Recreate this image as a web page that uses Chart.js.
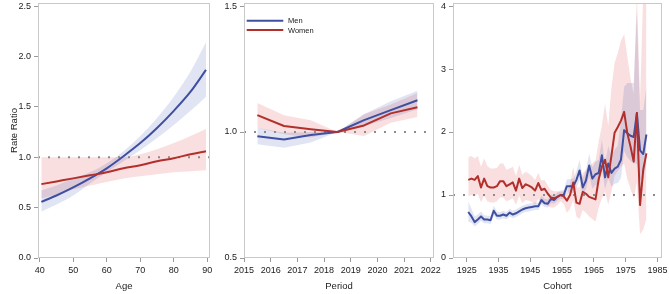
<!DOCTYPE html>
<html><head><meta charset="utf-8">
<script src="https://cdn.jsdelivr.net/npm/chart.js@4.4.1/dist/chart.umd.min.js"></script>
<style>
html,body{margin:0;padding:0;background:#fff;width:669px;height:294px;overflow:hidden;position:relative}
canvas{position:absolute;top:0}
</style></head><body>
<canvas id="c1" width="222" height="294" style="left:0px"></canvas>
<canvas id="c2" width="232" height="294" style="left:218px"></canvas>
<canvas id="c3" width="229" height="294" style="left:440px"></canvas>
<script>
// ---------- Age panel ----------
const ageValues      = [40.5, 45, 50, 55, 60, 65, 70, 75, 80, 85, 89.6];
const ageMen         = [0.557, 0.62, 0.70, 0.79, 0.89, 1.01, 1.14, 1.29, 1.46, 1.65, 1.866];
const ageMenLower    = [0.46, 0.53, 0.62, 0.74, 0.85, 0.96, 1.07, 1.19, 1.32, 1.46, 1.60];
const ageMenUpper    = [0.67, 0.72, 0.79, 0.85, 0.94, 1.06, 1.21, 1.39, 1.60, 1.85, 2.14];
const ageWomen       = [0.733, 0.76, 0.79, 0.82, 0.85, 0.89, 0.92, 0.96, 0.99, 1.03, 1.06];
const ageWomenLower  = [0.59, 0.63, 0.68, 0.72, 0.755, 0.79, 0.81, 0.83, 0.85, 0.86, 0.87];
const ageWomenUpper  = [1.0, 1.0, 1.0, 1.0, 1.0, 1.0, 1.03, 1.08, 1.14, 1.21, 1.28];
const ageXTicks      = [40, 50, 60, 70, 80, 90];
const ageYTicks      = [0, 0.5, 1.0, 1.5, 2.0, 2.5];

// ---------- Period panel ----------
const periodValues      = [2015.5, 2016.5, 2017.5, 2018.5, 2019.5, 2020.5, 2021.5];
const periodMen         = [0.983, 0.970, 0.988, 1.0, 1.047, 1.087, 1.126];
const periodMenLower    = [0.951, 0.938, 0.958, 1.0, 1.024, 1.056, 1.090];
const periodMenUpper    = [1.017, 0.997, 1.0, 1.0, 1.070, 1.122, 1.164];
const periodWomen       = [1.067, 1.024, 1.011, 1.0, 1.026, 1.074, 1.098];
const periodWomenLower  = [1.017, 0.991, 0.978, 1.0, 0.984, 1.037, 1.060];
const periodWomenUpper  = [1.115, 1.067, 1.047, 1.0, 1.070, 1.109, 1.155];
const periodXTicks      = [2015, 2016, 2017, 2018, 2019, 2020, 2021, 2022];
const periodYTicks      = [0.5, 1.0, 1.5];

// ---------- Cohort panel ----------
const cohortValues = [1925.5,1926.5,1927.5,1928.5,1929.5,1930.5,1931.5,1932.5,1933.5,1934.5,
  1935.5,1936.5,1937.5,1938.5,1939.5,1940.5,1941.5,1942.5,1943.5,1944.5,
  1945.5,1946.5,1947.5,1948.5,1949.5,1950.5,1951.5,1952.5,1953.5,1954.5,
  1955.5,1956.5,1957.5,1958.5,1959.5,1960.5,1961.5,1962.5,1963.5,1964.5,
  1965.5,1966.5,1967.5,1968.5,1969.5,1970.5,1971.5,1972.5,1973.5,1974.5,
  1975.5,1976.5,1977.5,1978.5,1979.5,1980.5,1981.5];
const cohortMen = [0.73,0.66,0.57,0.61,0.66,0.61,0.61,0.60,0.75,0.67,
  0.67,0.69,0.67,0.72,0.69,0.71,0.74,0.77,0.79,0.80,
  0.81,0.82,0.82,0.92,0.87,0.86,0.94,0.92,0.97,1.00,
  1.00,1.14,1.14,1.14,1.24,1.39,1.12,1.23,1.47,1.26,
  1.33,1.35,1.63,1.28,1.50,1.35,1.42,1.45,1.56,2.03,
  1.98,1.94,1.92,2.30,1.71,1.65,1.96];
const cohortMenLower = [0.58,0.56,0.50,0.54,0.59,0.55,0.55,0.54,0.68,0.61,
  0.61,0.63,0.61,0.66,0.63,0.65,0.68,0.71,0.73,0.74,
  0.75,0.76,0.76,0.85,0.81,0.80,0.87,0.86,0.91,0.94,
  0.93,1.04,1.04,1.03,1.11,1.24,0.99,1.09,1.30,1.10,
  1.16,1.17,1.41,1.09,1.27,1.13,1.18,1.19,1.27,1.70,
  1.60,1.54,1.50,1.50,1.25,1.22,1.50];
const cohortMenUpper = [0.90,0.78,0.66,0.69,0.74,0.68,0.67,0.67,0.83,0.74,
  0.73,0.75,0.73,0.78,0.75,0.77,0.80,0.83,0.85,0.86,
  0.87,0.88,0.88,0.99,0.94,0.93,1.01,0.99,1.04,1.07,
  1.08,1.25,1.25,1.26,1.38,1.56,1.27,1.39,1.66,1.44,
  1.53,1.56,1.88,1.50,1.78,1.62,1.72,1.78,2.20,2.72,
  2.78,2.78,2.78,3.90,2.35,2.35,2.72];
const cohortWomen = [1.24,1.26,1.24,1.30,1.12,1.26,1.14,1.12,1.12,1.14,
  1.22,1.22,1.14,1.17,1.20,1.07,1.26,1.11,1.17,1.15,
  1.12,1.07,1.19,1.08,1.10,1.02,0.96,0.95,0.97,1.00,
  0.98,0.91,1.00,1.20,0.88,0.86,1.05,1.02,0.97,0.95,
  0.93,1.25,1.45,1.56,1.28,1.62,1.99,2.08,2.18,2.32,
  1.98,1.77,1.53,2.30,0.84,1.40,1.66];
const cohortWomenLower = [0.98,1.00,0.98,1.02,0.88,0.99,0.90,0.88,0.88,0.90,
  0.96,0.96,0.90,0.92,0.95,0.84,0.99,0.87,0.92,0.91,
  0.89,0.85,0.94,0.86,0.88,0.82,0.80,0.80,0.84,0.90,
  0.86,0.72,0.78,0.92,0.66,0.62,0.76,0.72,0.66,0.62,
  0.58,0.80,0.95,1.05,0.85,1.05,1.30,1.38,1.45,1.50,
  1.25,1.10,0.95,1.20,0.38,0.45,0.62];
const cohortWomenUpper = [1.60,1.62,1.58,1.62,1.45,1.58,1.46,1.42,1.42,1.43,
  1.50,1.50,1.40,1.42,1.45,1.30,1.48,1.32,1.37,1.34,
  1.30,1.24,1.35,1.23,1.24,1.15,1.08,1.06,1.06,1.05,
  1.06,1.02,1.18,1.45,1.12,1.12,1.35,1.40,1.45,1.50,
  1.55,1.85,2.10,2.45,2.10,2.70,3.10,3.25,3.45,3.55,
  3.20,2.85,2.60,4.20,2.50,4.20,4.20];
const cohortXTicks = [1925, 1935, 1945, 1955, 1965, 1975, 1985];
const cohortYTicks = [0, 1, 2, 3, 4];

const referenceValue = 1;
const seriesNames = ['Men', 'Women'];

// ---------- styling ----------
const FONT = "'Liberation Sans', Arial, sans-serif";
Chart.defaults.font.family = FONT;
Chart.defaults.color = '#222';
const MEN_COLOR = '#3f4fa0';
const WOMEN_COLOR = '#b2302c';
const MEN_BAND = 'rgba(70,90,180,0.16)';
const WOMEN_BAND = 'rgba(220,80,80,0.18)';

const pts = (xs, ys) => xs.map((x, i) => ({x: x, y: ys[i]}));

const boxPlugin = {
  id: 'boxBorder',
  afterDatasetsDraw(chart) {
    const a = chart.chartArea, ctx = chart.ctx;
    ctx.save();
    ctx.strokeStyle = '#c9c9c9';
    ctx.lineWidth = 1;
    ctx.strokeRect(Math.round(a.left) + 0.5, Math.round(a.top) + 0.5,
                   Math.round(a.right - a.left) - 1, Math.round(a.bottom - a.top) - 1);
    ctx.restore();
  }
};

const legendPlugin = {
  id: 'innerLegend',
  afterDraw(chart, args, opts) {
    if (!opts || !opts.show) return;
    const a = chart.chartArea, ctx = chart.ctx;
    ctx.save();
    ctx.font = '7.5px ' + FONT;
    ctx.textBaseline = 'middle';
    let y = a.top + 17.7;
    seriesNames.forEach(name => {
      const ds = chart.data.datasets.find(d => d.legendLabel === name);
      if (!ds) return;
      ctx.strokeStyle = ds.borderColor;
      ctx.lineWidth = 2;
      ctx.beginPath();
      ctx.moveTo(a.left + 2.7, y);
      ctx.lineTo(a.left + 39.3, y);
      ctx.stroke();
      ctx.fillStyle = '#222';
      ctx.fillText(ds.legendLabel, a.left + 44, y + 0.5);
      y += 9.3;
    });
    ctx.restore();
  }
};

function buildChart(id, p) {
  const lineDs = (label, xs, ys, color) => ({
    label: label, legendLabel: p.legend ? label : null,
    data: pts(xs, ys), borderColor: color, backgroundColor: color,
    borderWidth: 2, pointRadius: 0, fill: false,
    tension: p.smooth ? 0.4 : 0, cubicInterpolationMode: p.smooth ? 'monotone' : 'default',
    borderJoinStyle: 'round'
  });
  const bandDs = (xs, ys, color, fill) => ({
    label: '', data: pts(xs, ys), borderWidth: 0, borderColor: 'rgba(0,0,0,0)',
    backgroundColor: color, pointRadius: 0, fill: fill,
    tension: p.smooth ? 0.4 : 0, cubicInterpolationMode: p.smooth ? 'monotone' : 'default'
  });
  const datasets = [
    lineDs(seriesNames[1], p.x, p.women, WOMEN_COLOR),
    lineDs(seriesNames[0], p.x, p.men, MEN_COLOR),
    { label: '', data: [{x: p.xMin, y: referenceValue}, {x: p.xMax, y: referenceValue}],
      borderColor: '#8c8c8c', borderWidth: 2, borderDash: [2, 8], pointRadius: 0, fill: false },
    bandDs(p.x, p.menUpper, MEN_BAND, '+1'),
    bandDs(p.x, p.menLower, MEN_BAND, false),
    bandDs(p.x, p.womenUpper, WOMEN_BAND, '+1'),
    bandDs(p.x, p.womenLower, WOMEN_BAND, false)
  ];
  return new Chart(document.getElementById(id), {
    type: 'line',
    data: { datasets: datasets },
    plugins: [boxPlugin, legendPlugin],
    options: {
      responsive: false, animation: false, devicePixelRatio: 1,
      layout: { padding: { top: 3, right: p.padRight, left: 0, bottom: 0 } },
      plugins: { legend: { display: false }, tooltip: { enabled: false },
                 innerLegend: { show: !!p.legend } },
      scales: {
        x: {
          type: 'linear', min: p.xMin, max: p.xMax,
          afterBuildTicks: s => { s.ticks = p.xTicks.map(v => ({value: v})); },
          afterFit: s => { s.height = 36; s.paddingLeft = 0; s.paddingRight = 0; },
          ticks: { font: { size: 9 }, color: '#222', padding: 3, maxRotation: 0, autoSkip: false,
                   callback: v => String(v) },
          grid: { display: true, drawOnChartArea: false, drawTicks: true, tickLength: 4, color: '#9a9a9a' },
          border: { display: false },
          title: { display: true, text: p.xTitle, font: { size: 9.5 }, color: '#222',
                   padding: { top: 0, bottom: 2 } }
        },
        y: {
          type: 'linear', min: p.yMin, max: p.yMax,
          afterBuildTicks: s => { s.ticks = p.yTicks.map(v => ({value: v})); },
          afterFit: s => { s.width = p.yWidth; s.paddingTop = 0; s.paddingBottom = 0; },
          ticks: { font: { size: 9 }, color: '#222', padding: 3, autoSkip: false,
                   callback: v => p.yFmt(v) },
          grid: { display: true, drawOnChartArea: false, drawTicks: true, tickLength: 4, color: '#9a9a9a' },
          border: { display: false },
          title: { display: !!p.yTitle, text: p.yTitle || '', font: { size: 9.5 }, color: '#222',
                   padding: { top: 9, bottom: 0 } }
        }
      }
    }
  });
}

buildChart('c1', {
  x: ageValues, men: ageMen, menLower: ageMenLower, menUpper: ageMenUpper,
  women: ageWomen, womenLower: ageWomenLower, womenUpper: ageWomenUpper,
  xMin: 39.5, xMax: 90.8, yMin: 0, yMax: 2.53, xTicks: ageXTicks, yTicks: ageYTicks,
  xTitle: 'Age', yTitle: 'Rate Ratio', yWidth: 38, padRight: 12, smooth: true,
  yFmt: v => v.toFixed(1)
});
buildChart('c2', {
  x: periodValues, men: periodMen, menLower: periodMenLower, menUpper: periodMenUpper,
  women: periodWomen, womenLower: periodWomenLower, womenUpper: periodWomenUpper,
  xMin: 2015, xMax: 2022.12, yMin: 0.5, yMax: 1.512, xTicks: periodXTicks, yTicks: periodYTicks,
  xTitle: 'Period', yTitle: null, yWidth: 26, padRight: 16, smooth: false, legend: true,
  yFmt: v => v.toFixed(1)
});
buildChart('c3', {
  x: cohortValues, men: cohortMen, menLower: cohortMenLower, menUpper: cohortMenUpper,
  women: cohortWomen, womenLower: cohortWomenLower, womenUpper: cohortWomenUpper,
  xMin: 1920.7, xMax: 1986.4, yMin: 0, yMax: 4.048, xTicks: cohortXTicks, yTicks: cohortYTicks,
  xTitle: 'Cohort', yTitle: null, yWidth: 13, padRight: 7, smooth: false,
  yFmt: v => String(v)
});
</script>
</body></html>
